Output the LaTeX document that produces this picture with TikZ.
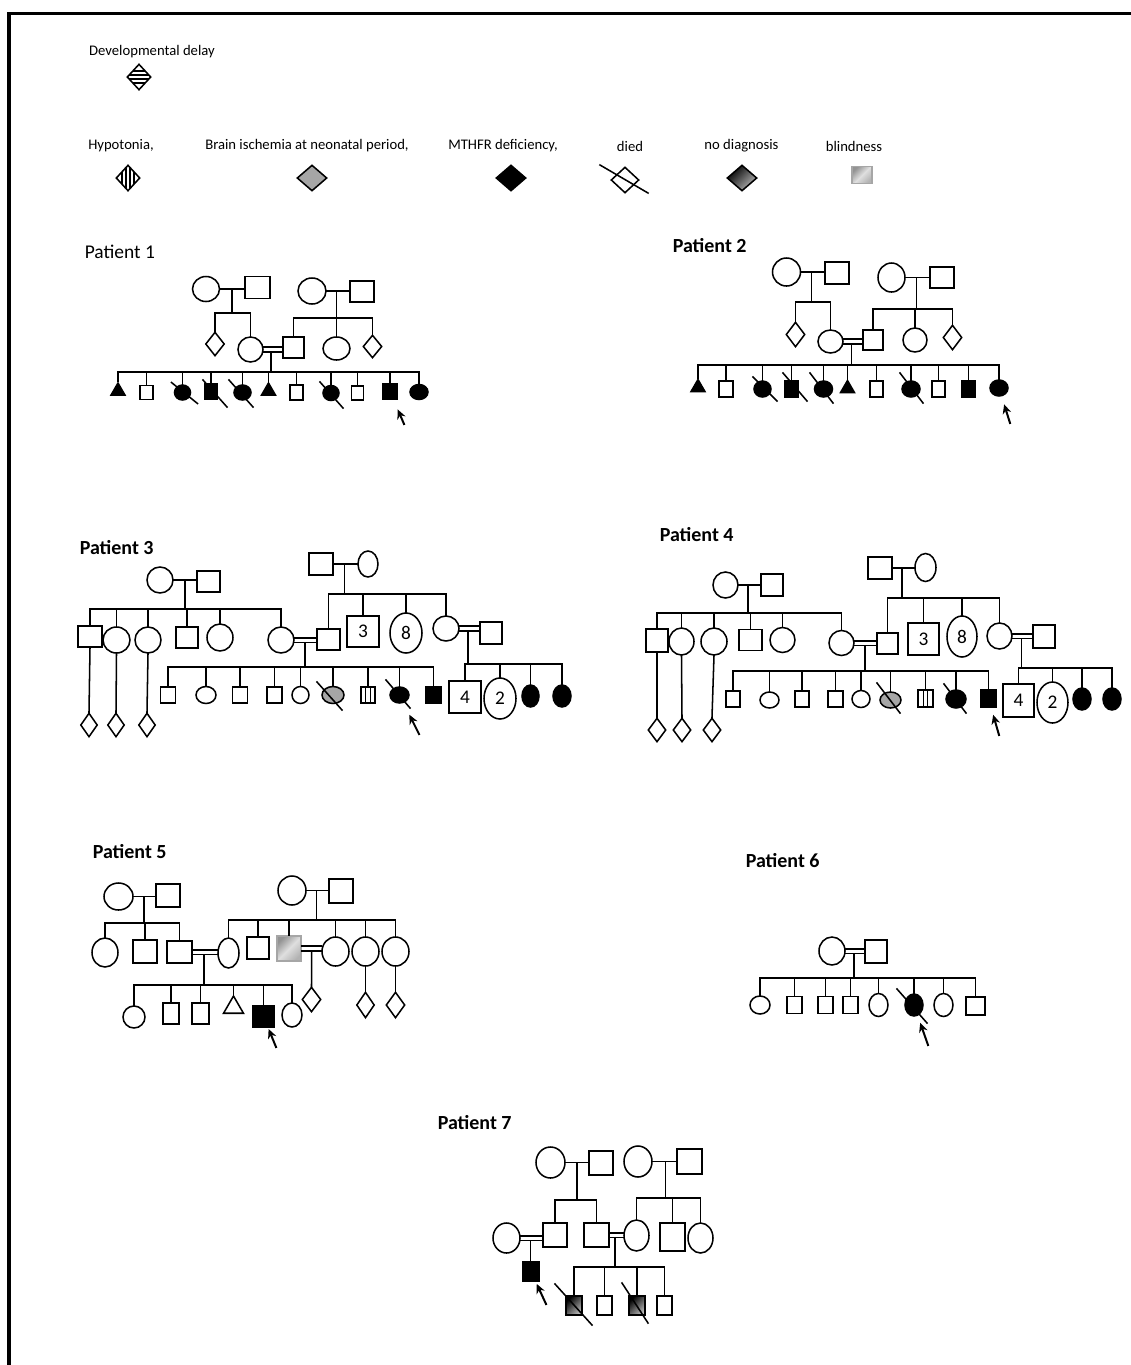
\documentclass[tikz,border=0pt]{standalone}
\usepackage{fontspec}
\setmainfont{Carlito}
\usetikzlibrary{shapes.geometric, arrows.meta}

\tikzset{
  sqr/.style 2 args={draw, rectangle, inner sep=0pt, minimum width=#1*0.75pt, minimum height=#2*0.75pt},
  elp/.style 2 args={draw, ellipse, inner sep=0pt, minimum width=#1*0.75pt, minimum height=#2*0.75pt},
  dmd/.style 2 args={draw, diamond, inner sep=0pt, minimum width=#1*0.75pt, minimum height=#2*0.75pt},
  tri/.style={draw, regular polygon, regular polygon sides=3, inner sep=0pt, minimum size=#1*0.75pt},
  aff/.style={fill=black},
  isch/.style={fill=gray!70},
  blind/.style={top color=gray!85, bottom color=gray!60, middle color=gray!25, shading angle=45, draw=gray!70},
  nodiag/.style={top color=black, bottom color=gray!55, shading angle=45},
  hstripes/.style={path picture={\foreach \d in {-6,-2,2,6}{\draw[line width=0.8pt] ([yshift=\d*0.75pt]path picture bounding box.center) ++(-20,0) -- ++(40,0);}}},
  vstripes/.style={path picture={\foreach \d in {-6,-2,2,6}{\draw[line width=0.8pt] ([xshift=\d*0.75pt]path picture bounding box.center) ++(0,-20) -- ++(0,40);}}},
  hypo/.style={path picture={\foreach \d in {-2.4,2.4}{\draw[line width=0.8pt] ([xshift=\d*0.75pt]path picture bounding box.center) ++(0,-20) -- ++(0,40);}}},
  proband/.style={line width=1.5pt, -{Stealth[length=7pt, width=6.5pt]}},
  lblr/.style={font=\fontsize{14.6}{17}\selectfont, anchor=west, inner sep=0pt},
  lblb/.style={font=\fontsize{15}{18}\selectfont\bfseries, anchor=west, inner sep=0pt},
  legend/.style={font=\fontsize{11}{13}\selectfont, inner sep=0pt},
  num/.style={font=\fontsize{14.5}{16}\selectfont},
}

% horizontal sibship line through coordinate #1 from #2 to #3, with a tick to every child in #4
\newcommand\sibship[4]{%
  \draw (#2.north |- #1) -- (#3.north |- #1);
  \foreach \k in {#4}{\draw (\k.north) -- (\k.north |- #1);}%
}
% consanguineous (double) marriage line from #1 to #2
\newcommand\consang[2]{%
  \draw ([yshift=1.7pt]#1.east) -- ([yshift=1.7pt]#1.east -| #2.west);
  \draw ([yshift=-1.7pt]#1.east) -- ([yshift=-1.7pt]#1.east -| #2.west);
}
% deceased slash across node #1
\newcommand\diedmark[5]{\draw ([shift={(#2,#3)}]#1.center) -- ([shift={(#4,#5)}]#1.center);}

\begin{document}
\begin{tikzpicture}[x=0.75pt, y=-0.75pt, line width=1.15pt, line cap=rect]
\useasboundingbox (0,0) rectangle (1131,1365);
\fill[white] (0,0) rectangle (1131,1365);

% frame
\draw[line width=2.6pt, line cap=butt, line join=miter] (9,1365) -- (9,13.5) -- (1131,13.5);

% ---------------- legend ----------------
\node[legend] (tdd) at (152,52) {Developmental delay};
\node[dmd={24}{26}, hstripes] (lgdd) at (139,77) {};
\node[legend] (thy) at (121,146) {Hypotonia,};
\node[dmd={24}{26}, vstripes] (lghy) at (128,178) {};
\node[legend] (tis) at (307,146) {Brain ischemia at neonatal period,};
\node[dmd={30}{26}, isch] (lgis) at (312,178) {};
\node[legend] (tmt) at (503,146) {MTHFR deficiency,};
\node[dmd={30}{26}, aff] (lgmt) at (511,178) {};
\node[legend] (tdi) at (630,146) {died};
\node[dmd={28}{26}] (lgdi) at (625,180) {};
\diedmark{lgdi}{-25}{-15}{23}{13}
\node[legend] (tnd) at (741.5,146) {no diagnosis};
\node[dmd={30}{26}, nodiag] (lgnd) at (742,178) {};
\node[legend] (tbl) at (854,146) {blindness};
\node[sqr={20}{17}, blind] (lgbl) at (862,175) {};

% ---------------- Patient 1 ----------------
\node[lblr] (t1) at (84,252) {Patient 1};
\node[elp={27}{25}] (p1a) at (206,289) {};
\node[sqr={25}{22}] (p1b) at (257.5,287.5) {};
\draw (p1a.east) -- (p1a.east -| p1b.west);
\coordinate (p1u1) at (232,289);
\coordinate (p1s1) at (232,313);
\draw (p1u1) -- (p1s1);
\node[dmd={19}{24}] (p1d1) at (215,344) {};
\node[elp={25}{25}] (p1w) at (250.5,349.5) {};
\sibship{p1s1}{p1d1}{p1w}{p1d1,p1w}

\node[elp={28}{26}] (p1c) at (312,291) {};
\node[sqr={24}{21}] (p1e) at (362,291.5) {};
\draw (p1c.east) -- (p1c.east -| p1e.west);
\coordinate (p1u2) at (336.5,291.5);
\coordinate (p1s2) at (336.5,318);
\draw (p1u2) -- (p1s2);
\node[sqr={21}{21}] (p1h) at (293.5,347.5) {};
\node[elp={27}{23}] (p1f) at (336.5,348.5) {};
\node[dmd={19}{23}] (p1d2) at (372.5,346.5) {};
\sibship{p1s2}{p1h}{p1d2}{p1h,p1f,p1d2}

\consang{p1w}{p1h}
\coordinate (p1u3) at (271,352);
\coordinate (p1s3) at (271,372);
\draw (p1u3) -- (p1s3);
\node[tri=16, aff] (p1k1) at (118,391) {};
\node[sqr={13}{14}] (p1k2) at (146.5,392.5) {};
\node[elp={16}{15}, aff] (p1k3) at (182.5,392.5) {};
\node[sqr={13}{15}, aff] (p1k4) at (211,391.5) {};
\node[elp={17}{15}, aff] (p1k5) at (242.5,392.5) {};
\node[tri=16, aff] (p1k6) at (268.5,391) {};
\node[sqr={13}{15}] (p1k7) at (296.5,392.5) {};
\node[elp={16}{15}, aff] (p1k8) at (331,393) {};
\node[sqr={12}{14}] (p1k9) at (357.5,393) {};
\node[sqr={14}{16}, aff] (p1k10) at (390,391.5) {};
\node[elp={18}{15}, aff] (p1k11) at (419,392) {};
\sibship{p1s3}{p1k1}{p1k11}{p1k1,p1k2,p1k3,p1k4,p1k5,p1k6,p1k7,p1k8,p1k9,p1k10,p1k11}
\diedmark{p1k3}{-11}{-10}{15}{11}
\diedmark{p1k4}{-8}{-11.5}{16}{15.5}
\diedmark{p1k5}{-13.5}{-12.5}{10.5}{14.5}
\diedmark{p1k8}{-11}{-11}{12}{15}
\coordinate (p1r) at (404,424);
\draw[proband, shorten >=7.5pt] (p1r) -- (p1k10);

% ---------------- Patient 2 ----------------
\node[lblb] (t2) at (672,246) {Patient 2};
\node[elp={28}{28}] (p2a) at (786.5,272) {};
\node[sqr={24}{22}] (p2b) at (837,273) {};
\draw (p2a.east) -- (p2a.east -| p2b.west);
\coordinate (p2u1) at (811.7,273);
\coordinate (p2s1) at (811.7,302);
\draw (p2u1) -- (p2s1);
\node[dmd={19}{25}] (p2d1) at (795.5,334.5) {};
\node[elp={25}{23}] (p2w) at (830.5,341.5) {};
\sibship{p2s1}{p2d1}{p2w}{p2d1,p2w}

\node[elp={27}{29}] (p2c) at (891.5,277.5) {};
\node[sqr={24}{21}] (p2e) at (942,277.5) {};
\draw (p2c.east) -- (p2c.east -| p2e.west);
\coordinate (p2u2) at (916.7,277.5);
\coordinate (p2s2) at (916.7,309);
\draw (p2u2) -- (p2s2);
\node[sqr={20}{20}] (p2h) at (873,340) {};
\node[elp={24}{24}] (p2f) at (915,340) {};
\node[dmd={19}{25}] (p2d2) at (952.5,337.5) {};
\sibship{p2s2}{p2h}{p2d2}{p2h,p2f,p2d2}

\consang{p2w}{p2h}
\coordinate (p2u3) at (851.7,344);
\coordinate (p2s3) at (851.7,365);
\draw (p2u3) -- (p2s3);
\node[tri=16, aff] (p2k1) at (698,387.5) {};
\node[sqr={14}{16}] (p2k2) at (726,389) {};
\node[elp={17}{16}, aff] (p2k3) at (762.5,389) {};
\node[sqr={13}{16}, aff] (p2k4) at (791.5,389) {};
\node[elp={18}{16}, aff] (p2k5) at (823.5,389) {};
\node[tri=16, aff] (p2k6) at (847.5,388.5) {};
\node[sqr={13}{16}] (p2k7) at (876.5,389) {};
\node[elp={18}{16}, aff] (p2k8) at (911,389) {};
\node[sqr={13}{16}] (p2k9) at (938.5,389) {};
\node[sqr={13}{16}, aff] (p2k10) at (968.5,389) {};
\node[elp={18}{16}, aff] (p2k11) at (999,388) {};
\sibship{p2s3}{p2k1}{p2k11}{p2k1,p2k2,p2k3,p2k4,p2k5,p2k6,p2k7,p2k8,p2k9,p2k10,p2k11}
\diedmark{p2k3}{-9.5}{-12}{14.5}{12}
\diedmark{p2k4}{-8.5}{-16}{15.5}{12}
\diedmark{p2k5}{-13.5}{-16}{9.5}{14}
\diedmark{p2k8}{-11}{-16}{12}{14}
\coordinate (p2r) at (1010,423);
\draw[proband, shorten >=6.2pt] (p2r) -- (p2k11);

% ---------------- Patient 3 ----------------
\node[lblb] (t3) at (79,548) {Patient 3};
\node[elp={26}{26}] (p3a) at (160,580) {};
\node[sqr={23}{21}] (p3b) at (208.5,581.5) {};
\draw (p3a.east) -- (p3a.east -| p3b.west);
\coordinate (p3u1) at (185,580);
\coordinate (p3s1) at (185,609);
\draw (p3u1) -- (p3s1);
\node[sqr={24}{21}] (p3s) at (90,636.5) {};
\node[elp={27}{26}] (p3f1) at (116.5,640) {};
\node[elp={26}{26}] (p3f2) at (148,640) {};
\node[sqr={22}{21}] (p3m2) at (187,637.5) {};
\node[elp={26}{27}] (p3f3) at (220,637.5) {};
\node[elp={26}{26}] (p3w) at (281,640) {};
\sibship{p3s1}{p3s}{p3w}{p3s,p3f1,p3f2,p3m2,p3f3,p3w}
\node[dmd={17}{24}] (p3d1) at (89,725) {};
\node[dmd={17}{24}] (p3d2) at (116,725) {};
\node[dmd={17}{24}] (p3d3) at (147,725) {};
\draw (p3s.south) -- (p3d1.north);
\draw (p3f1.south) -- (p3d2.north);
\draw (p3f2.south) -- (p3d3.north);

\node[sqr={24}{22}] (p3g) at (321,564) {};
\node[elp={20}{26}] (p3h) at (368,564) {};
\draw (p3g.east) -- (p3g.east -| p3h.west);
\coordinate (p3u2) at (344.3,564);
\coordinate (p3s2) at (344.3,594);
\draw (p3u2) -- (p3s2);
\node[sqr={23}{21}] (p3x) at (328.5,639.5) {};
\node[sqr={32}{31}, num] (p3n3) at (363,631.5) {3};
\node[elp={32}{40}, num] (p3n8) at (406,633) {8};
\node[elp={26}{25}] (p3y) at (446,628.5) {};
\sibship{p3s2}{p3x}{p3y}{p3x,p3n3,p3n8,p3y}

\consang{p3w}{p3x}
\coordinate (p3u3) at (305,642.5);
\coordinate (p3s3) at (305,667);
\draw (p3u3) -- (p3s3);
\node[sqr={15}{16}] (p3k1) at (168,695) {};
\node[elp={20}{17}] (p3k2) at (206,695) {};
\node[sqr={15}{16}] (p3k3) at (240,695) {};
\node[sqr={15}{16}] (p3k4) at (274.5,695) {};
\node[elp={17}{17}] (p3k5) at (300.5,695) {};
\node[elp={22}{17}, isch] (p3k6) at (333,695) {};
\node[sqr={14}{16}, hypo] (p3k7) at (368,695) {};
\node[elp={19}{16}, aff] (p3k8) at (399.5,695) {};
\node[sqr={15}{16}, aff] (p3k9) at (433.5,695) {};
\sibship{p3s3}{p3k1}{p3k9}{p3k1,p3k2,p3k3,p3k4,p3k5,p3k6,p3k7,p3k8,p3k9}
\diedmark{p3k6}{-16}{-13}{9}{15}
\diedmark{p3k8}{-13.5}{-15}{10.5}{13}
\coordinate (p3r) at (419,734);
\draw[proband, shorten >=9.8pt] (p3r) -- (p3k8);

\node[sqr={22}{22}] (p3z) at (491,633) {};
\consang{p3y}{p3z}
\coordinate (p3u4) at (468,631);
\coordinate (p3s4) at (468,664);
\draw (p3u4) -- (p3s4);
\node[sqr={32}{32}, num] (p3k10) at (465,697) {4};
\node[elp={32}{41}, num] (p3k11) at (500,698.5) {2};
\node[elp={17}{22}, aff] (p3k12) at (530.5,696) {};
\node[elp={18}{22}, aff] (p3k13) at (562,696) {};
\sibship{p3s4}{p3k10}{p3k13}{p3k10,p3k11,p3k12,p3k13}

% ---------------- Patient 4 ----------------
\node[lblb] (t4) at (659,535) {Patient 4};
\node[elp={25}{26}] (p4a) at (725.5,585) {};
\node[sqr={22}{22}] (p4b) at (772,585) {};
\draw (p4a.east) -- (p4a.east -| p4b.west);
\coordinate (p4u1) at (748,585);
\coordinate (p4s1) at (748,613);
\draw (p4u1) -- (p4s1);
\node[sqr={22}{23}] (p4s) at (657,640.5) {};
\node[elp={25}{27}] (p4f1) at (681.5,641.5) {};
\node[elp={26}{27}] (p4f2) at (714,641.5) {};
\node[sqr={23}{21}] (p4m2) at (750.5,640) {};
\node[elp={25}{25}] (p4f3) at (782.5,640) {};
\node[elp={25}{25}] (p4w) at (841.5,643) {};
\sibship{p4s1}{p4s}{p4w}{p4s,p4f1,p4f2,p4m2,p4f3,p4w}
\node[dmd={18}{24}] (p4d1) at (657,730) {};
\node[dmd={18}{24}] (p4d2) at (682,730) {};
\node[dmd={18}{24}] (p4d3) at (712,730) {};
\draw (p4s.south) -- (p4d1.north);
\draw (p4f1.south) -- (p4d2.north);
\draw (p4f2.south) -- (p4d3.north);

\node[sqr={24}{22}] (p4g) at (880,568) {};
\node[elp={21}{28}] (p4h) at (925.5,567.5) {};
\draw (p4g.east) -- (p4g.east -| p4h.west);
\coordinate (p4u2) at (902,568);
\coordinate (p4s2) at (902,598);
\draw (p4u2) -- (p4s2);
\node[sqr={21}{21}] (p4x) at (887.5,643.5) {};
\node[sqr={31}{32}, num] (p4n3) at (923.5,639) {3};
\node[elp={30}{41}, num] (p4n8) at (962,636.5) {8};
\node[elp={25}{26}] (p4y) at (999.5,636) {};
\sibship{p4s2}{p4x}{p4y}{p4x,p4n3,p4n8,p4y}

\consang{p4w}{p4x}
\coordinate (p4u3) at (865,645.5);
\coordinate (p4s3) at (865,671);
\draw (p4u3) -- (p4s3);
\node[sqr={14}{16}] (p4k1) at (733,699) {};
\node[elp={19}{16}] (p4k2) at (769.5,700) {};
\node[sqr={14}{16}] (p4k3) at (802,699) {};
\node[sqr={15}{16}] (p4k4) at (835.5,699) {};
\node[elp={18}{17}] (p4k5) at (861,699) {};
\node[elp={21}{16}, isch] (p4k6) at (890.5,700) {};
\node[sqr={15}{17}, hypo] (p4k7) at (925.5,698.5) {};
\node[elp={20}{18}, aff] (p4k8) at (956,699) {};
\node[sqr={15}{17}, aff] (p4k9) at (988.5,698.5) {};
\sibship{p4s3}{p4k1}{p4k9}{p4k1,p4k2,p4k3,p4k4,p4k5,p4k6,p4k7,p4k8,p4k9}
\diedmark{p4k6}{-13.5}{-17}{9.5}{13}
\diedmark{p4k8}{-12}{-15}{10}{14}
\coordinate (p4r) at (999,735);
\draw[proband, shorten >=5.5pt] (p4r) -- (p4k9);

\node[sqr={22}{23}] (p4z) at (1044,636.5) {};
\consang{p4y}{p4z}
\coordinate (p4u4) at (1021.7,638.5);
\coordinate (p4s4) at (1021.7,668);
\draw (p4u4) -- (p4s4);
\node[sqr={31}{33}, num] (p4k10) at (1018.5,700.5) {4};
\node[elp={31}{41}, num] (p4k11) at (1052.5,702.5) {2};
\node[elp={18}{22}, aff] (p4k12) at (1082,699) {};
\node[elp={18}{22}, aff] (p4k13) at (1112,699) {};
\sibship{p4s4}{p4k10}{p4k13}{p4k10,p4k11,p4k12,p4k13}

% ---------------- Patient 5 ----------------
\node[lblb] (t5) at (92,852) {Patient 5};
\node[elp={29}{27}] (p5a) at (118.5,896.5) {};
\node[sqr={24}{23}] (p5b) at (168,895.5) {};
\draw (p5a.east) -- (p5a.east -| p5b.west);
\coordinate (p5u1) at (144,896.5);
\coordinate (p5s1) at (144,923);
\draw (p5u1) -- (p5s1);
\node[elp={26}{29}] (p5c) at (105,952.5) {};
\node[sqr={24}{23}] (p5d) at (145,951.5) {};
\node[sqr={25}{22}] (p5e) at (179.5,952) {};
\sibship{p5s1}{p5c}{p5e}{p5c,p5d,p5e}

\node[elp={28}{29}] (p5g) at (292,890.5) {};
\node[sqr={24}{24}] (p5h) at (341,891) {};
\draw (p5g.east) -- (p5g.east -| p5h.west);
\coordinate (p5u2) at (316.7,890.5);
\coordinate (p5s2) at (316.7,920);
\draw (p5u2) -- (p5s2);
\node[elp={21}{30}] (p5f) at (228.5,953) {};
\node[sqr={22}{22}] (p5i) at (258,948) {};
\node[sqr={24}{25}, blind] (p5j) at (289,948.5) {};
\node[elp={27}{29}] (p5k) at (335.5,951.5) {};
\node[elp={27}{29}] (p5l) at (365.5,951.5) {};
\node[elp={27}{29}] (p5m) at (395.5,951.5) {};
\sibship{p5s2}{p5f}{p5m}{p5f,p5i,p5j,p5k,p5l,p5m}

\consang{p5e}{p5f}
\coordinate (p5u3) at (204,954.5);
\coordinate (p5s3) at (204,985);
\draw (p5u3) -- (p5s3);
\node[elp={22}{22}] (p5k1) at (134,1017) {};
\node[sqr={16}{21}] (p5k2) at (171,1013.5) {};
\node[sqr={17}{21}] (p5k3) at (200.5,1013.5) {};
\node[tri=23] (p5k4) at (233.5,1007.5) {};
\node[sqr={21}{21}, aff] (p5k5) at (263.5,1016.5) {};
\node[elp={20}{24}] (p5k6) at (292,1015) {};
\sibship{p5s3}{p5k1}{p5k6}{p5k1,p5k2,p5k3,p5k4,p5k5,p5k6}
\coordinate (p5r) at (276,1047);
\draw[proband, shorten >=1pt] (p5r) -- (p5k5);

\consang{p5j}{p5k}
\node[dmd={19}{25}] (p5n) at (311.5,999.5) {};
\coordinate (p5u4) at (311.7,951);
\draw (p5u4) -- (p5n.north);
\node[dmd={18}{26}] (p5o) at (365.5,1005) {};
\node[dmd={19}{26}] (p5p) at (395.5,1005) {};
\draw (p5l.south) -- (p5o.north);
\draw (p5m.south) -- (p5p.north);

% ---------------- Patient 6 ----------------
\node[lblb] (t6) at (745,861) {Patient 6};
\node[elp={26}{28}] (p6a) at (832,951) {};
\node[sqr={22}{23}] (p6b) at (876,951.5) {};
\consang{p6a}{p6b}
\coordinate (p6u1) at (854,953.3);
\coordinate (p6s1) at (854,978);
\draw (p6u1) -- (p6s1);
\node[elp={20}{18}] (p6k1) at (760,1005) {};
\node[sqr={15}{17}] (p6k2) at (794.5,1005) {};
\node[sqr={15}{17}] (p6k3) at (825.5,1005) {};
\node[sqr={15}{17}] (p6k4) at (850.5,1005) {};
\node[elp={19}{23}] (p6k5) at (878.5,1005) {};
\node[elp={18}{22}, aff] (p6k6) at (914,1005) {};
\node[elp={19}{23}] (p6k7) at (943.5,1005) {};
\node[sqr={19}{18}] (p6k8) at (975.5,1006) {};
\sibship{p6s1}{p6k1}{p6k8}{p6k1,p6k2,p6k3,p6k4,p6k5,p6k6,p6k7,p6k8}
\diedmark{p6k6}{-17}{-16}{13}{18}
\coordinate (p6r) at (928,1045);
\draw[proband, shorten >=5.5pt] (p6r) -- (p6k6);

% ---------------- Patient 7 ----------------
\node[lblb] (t7) at (437,1123) {Patient 7};
\node[elp={29}{31}] (p7a) at (550.5,1162.5) {};
\node[sqr={24}{24}] (p7b) at (601,1163) {};
\draw (p7a.east) -- (p7a.east -| p7b.west);
\coordinate (p7u1) at (577,1162.5);
\coordinate (p7s1) at (577,1200);
\draw (p7u1) -- (p7s1);
\node[elp={28}{31}] (p7c) at (638,1161.5) {};
\node[sqr={25}{25}] (p7d) at (689.5,1161.5) {};
\draw (p7c.east) -- (p7c.east -| p7d.west);
\coordinate (p7u2) at (665.7,1161.5);
\coordinate (p7s2) at (665.7,1198);
\draw (p7u2) -- (p7s2);
\node[elp={27}{30}] (p7e) at (506.5,1238) {};
\node[sqr={24}{24}] (p7f) at (555,1235) {};
\node[sqr={25}{24}] (p7g) at (596.5,1235) {};
\node[elp={25}{31}] (p7h) at (636.5,1235.5) {};
\node[sqr={25}{28}] (p7i) at (672.5,1237) {};
\node[elp={25}{30}] (p7j) at (700.5,1238) {};
\sibship{p7s1}{p7f}{p7g}{p7f,p7g}
\sibship{p7s2}{p7h}{p7j}{p7h,p7i,p7j}

\consang{p7e}{p7f}
\coordinate (p7u3) at (530.7,1240.3);
\node[sqr={16}{19}, aff] (p7k) at (531,1271.5) {};
\draw (p7u3) -- (p7u3 |- p7k.north);
\coordinate (p7r) at (546,1304);
\draw[proband, shorten >=1.8pt] (p7r) -- (p7k);

\consang{p7g}{p7h}
\coordinate (p7u4) at (615,1237.3);
\coordinate (p7s4) at (615,1267);
\draw (p7u4) -- (p7s4);
\node[sqr={16}{19}, nodiag] (p7k1) at (574,1305.5) {};
\node[sqr={15}{19}] (p7k2) at (604.5,1305.5) {};
\node[sqr={16}{19}, nodiag] (p7k3) at (637,1305.5) {};
\node[sqr={15}{19}] (p7k4) at (664.5,1305.5) {};
\sibship{p7s4}{p7k1}{p7k4}{p7k1,p7k2,p7k3,p7k4}
\diedmark{p7k1}{-19}{-21.5}{18}{19.5}
\diedmark{p7k3}{-15}{-22.5}{11}{17.5}

\end{tikzpicture}
\end{document}
